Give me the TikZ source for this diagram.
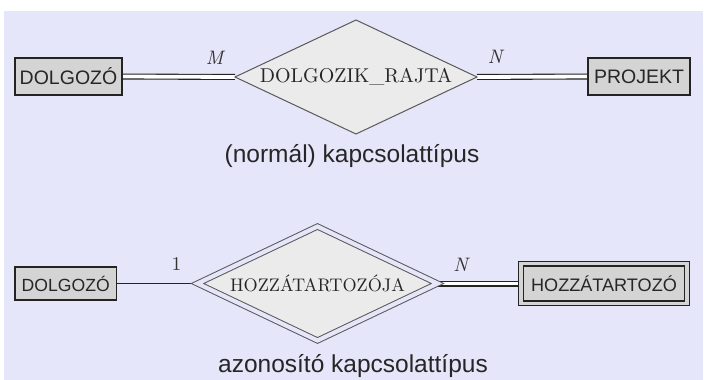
\documentclass[tikz,border=0pt]{standalone}
\usepackage{fontspec}
\setmainfont{lmroman10-regular}[Extension=.otf, ItalicFont=lmroman10-italic]
\newfontfamily\sansf{Liberation Sans}
\usetikzlibrary{shapes.geometric}
\definecolor{pagebg}{RGB}{230,230,250}
\definecolor{entfill}{RGB}{212,212,212}
\definecolor{relfill}{RGB}{235,235,235}
\definecolor{edgecol}{RGB}{35,35,35}
\pgfdeclarelayer{bgfill}
\pgfdeclarelayer{background}
\pgfsetlayers{bgfill,background,main}
\tikzset{
  entity/.style={draw=edgecol, line width=1.2pt, fill=entfill, rectangle,
    inner sep=0pt, outer sep=0pt, text=black!85,
    font=\fontsize{19.5}{23}\selectfont\sansf},
  weakentity/.style={entity, double=entfill, double distance=3.4pt, line width=1.1pt},
  relation/.style={draw=black!65, line width=1pt, fill=relfill, diamond,
    aspect=2.12, inner sep=0pt, outer sep=0pt, minimum width=242pt,
    minimum height=114pt, font=\fontsize{20}{24}\selectfont, text=black!85},
  identrel/.style={relation, double=pagebg, double distance=4.2pt,
    minimum width=240pt, font=\fontsize{18.2}{22}\selectfont},
  conn/.style={draw=edgecol, line width=1pt},
  total/.style={conn, line width=1.1pt, double=white, double distance=3.8pt},
  card/.style={font=\fontsize{19.5}{23}\selectfont\itshape, text=black!80, inner sep=0pt},
  caption/.style={font=\fontsize{24.5}{29}\selectfont\sansf, text=black!85, inner sep=0pt}
}
\begin{document}
\begin{tikzpicture}[x=1pt, y=-1pt]
\useasboundingbox (0,0) rectangle (704,380);
\begin{pgfonlayer}{bgfill}
  \fill[pagebg] (4,11) rectangle (702.5,380);
\end{pgfonlayer}

% ordinary relationship type
\node[entity, minimum width=107pt, minimum height=37pt] (dolg1) at (68.5,76.5) {DOLGOZÓ};
\node[relation] (dr) at (356,77) {DOLGOZIK\_RAJTA};
\node[entity, minimum width=102pt, minimum height=37pt] (proj) at (639,76.5) {PROJEKT};
\node[card] (m1) at (214.5,57.5) {M};
\node[card] (n1) at (495,57) {N};
\node[caption] (cap1) at (352,156) {(normál) kapcsolattípus};

% identifying relationship type
\node[entity, minimum width=101.5pt, minimum height=33pt,
      font=\fontsize{17.6}{21}\selectfont\sansf] (dolg2) at (65.75,283.5) {DOLGOZÓ};
\node[identrel] (hz) at (317.5,283.5) {HOZZÁTARTOZÓJA};
\node[weakentity, minimum width=166pt, minimum height=39.5pt,
      font=\fontsize{18.1}{22}\selectfont\sansf] (hzt) at (604,283.5) {HOZZÁTARTOZÓ};
\node[card, font=\fontsize{19.5}{23}\selectfont] (one) at (176.5,264.5) {1};
\node[card] (n2) at (460.5,264.5) {N};
\node[caption] (cap2) at (353,366) {azonosító kapcsolattípus};

\begin{pgfonlayer}{background}
  \draw[total] (dolg1.east) -- (dr.west);
  \draw[total] (dr.east) -- (proj.west);
  \draw[conn] (dolg2.east) -- (hz.west);
  \draw[total] (hz.east) -- (hzt.west);
\end{pgfonlayer}
\end{tikzpicture}
\end{document}
